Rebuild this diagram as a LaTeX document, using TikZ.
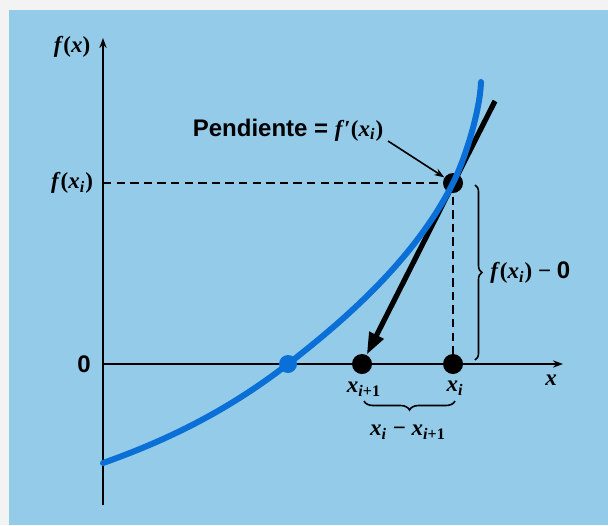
\documentclass[tikz,border=0pt]{standalone}
\usepackage{fontspec}
\setmainfont{Liberation Serif}
\setsansfont{Liberation Sans}
\usetikzlibrary{arrows.meta,decorations.pathreplacing}
\definecolor{bgblue}{HTML}{93CBE8}
\definecolor{curveblue}{HTML}{0A6FD6}
\definecolor{frame}{HTML}{F3F3F3}
\newcommand{\bi}[1]{\textbf{\textit{#1}}}
\newcommand{\vxi}{\bi{x}\textsubscript{\bi{i}}}
\newcommand{\vxip}{\bi{x}\textsubscript{\bi{i}\textbf{+1}}}
\tikzset{
  axisline/.style={line width=1pt,-{Stealth[length=5pt,width=3.6pt]}},
  guide/.style={line width=1.1pt,dash pattern=on 4.2pt off 2.6pt},
  bdot/.style={circle,fill=black,inner sep=0pt,minimum size=10pt},
  rdot/.style={circle,fill=curveblue,inner sep=0pt,minimum size=9pt},
  curve/.style={line width=3pt,curveblue,line cap=round},
  tangent/.style={line width=2.6pt,-{Triangle[length=11pt,width=7.5pt]}},
  leader/.style={line width=0.8pt,-{Stealth[length=5pt,width=3.6pt]}},
  bracestyle/.style={line width=0.8pt,decorate},
  mlabel/.style={font=\fontsize{11.5}{13}\selectfont,inner sep=1pt},
  slabel/.style={font=\sffamily\bfseries\fontsize{12}{14}\selectfont,inner sep=1pt}
}
\begin{document}
\begin{tikzpicture}[x=0.5pt,y=-0.5pt]
\fill[frame] (0,0) rectangle (608,525);
\fill[bgblue] (9,10) rectangle (608,525);
\useasboundingbox (0,0) rectangle (608,525);

% axes
\coordinate (yb) at (103,505);
\coordinate (yt) at (103,38);
\coordinate (xo) at (103,364);
\coordinate (xe) at (563,364);
\draw[axisline] (yb) -- (yt);
\draw[axisline] (xo) -- (xe);

% points
\node[bdot] (fxi) at (453,183) {};
\node[bdot] (xi) at (453,364) {};
\node[bdot] (xip) at (362,364) {};
\coordinate (yfx) at (103,183);

% dashed guides
\draw[guide] (yfx) -- (fxi.center);
\draw[guide] (fxi.center) -- (xi.center);

% tangent
\coordinate (tt) at (495,101);
\draw[tangent] (tt) -- (xip);

% curve
\coordinate (c0) at (103,463);
\coordinate (c3) at (481,82);
\draw[curve] (c0) .. controls (165,441) and (226,412) .. (288,364)
  .. controls (338,325) and (413,263) .. (453,183)
  .. controls (466,157) and (480,110) .. (c3);
\node[rdot] (root) at (288,364) {};

% labels
\node[mlabel] (lfx) at (72,47) {\bi{f}\textbf{(}\bi{x}\textbf{)}};
\node[mlabel] (lfxi) at (72,183) {\bi{f}\textbf{(}\vxi\textbf{)}};
\node[slabel] (lzero) at (84,364) {0};
\node[anchor=base] (pend) at (288,136) {\sffamily\bfseries\fontsize{12}{14}\selectfont Pendiente = \rmfamily\fontsize{11.5}{13}\selectfont\bi{f}\textbf{′}\textbf{(}\vxi\textbf{)}};
\coordinate (ls) at (388,141);
\draw[leader] (ls) -- (fxi);

\node[mlabel] (lxip) at (364,389) {\vxip};
\node[mlabel] (lxi) at (455,388) {\vxi};
\node[mlabel] (lx) at (551,380) {\bi{x}};

% braces
\coordinate (b1a) at (475,185);
\coordinate (b1b) at (475,360);
\draw[bracestyle,decoration={brace,amplitude=3.5pt}] (b1a) -- (b1b);
\node[mlabel,anchor=west] (ldiff) at (488,273) {\bi{f}\textbf{(}\vxi\textbf{)} \textbf{−} \sffamily\bfseries\fontsize{12}{14}\selectfont 0};

\coordinate (b2a) at (455,401);
\coordinate (b2b) at (364,401);
\draw[bracestyle,decoration={brace,amplitude=4.5pt}] (b2a) -- (b2b);
\node[mlabel] (ldx) at (408,432) {\vxi\ \textbf{−} \vxip};
\end{tikzpicture}
\end{document}
